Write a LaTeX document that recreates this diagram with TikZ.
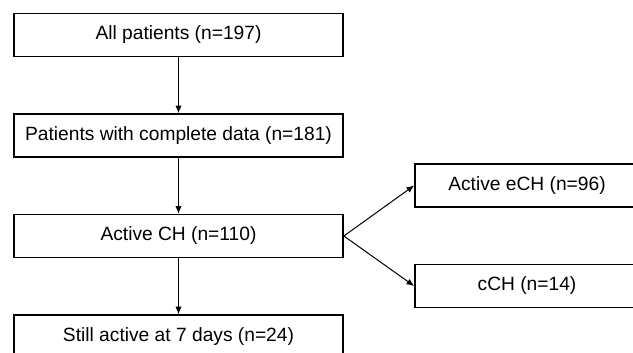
\documentclass[tikz,border=0pt]{standalone}
\usepackage{fontspec}
\setmainfont{Liberation Sans}
\usetikzlibrary{arrows.meta}
\def\rowsep{100.5}

\begin{document}
\begin{tikzpicture}[x=0.5pt,y=-0.5pt,->,>={Latex[length=3.8pt,width=3.2pt]},draw=black]
  \tikzstyle{every edge}=[draw,line width=0.5pt]
  \tikzstyle{box}=[draw,line width=0.85pt,minimum width=164.5pt,minimum height=21.5pt,inner sep=0pt,font=\fontsize{9.6}{11}\selectfont]
  \tikzstyle{sidebox}=[box,minimum width=112pt]

  \useasboundingbox (0,0) rectangle (633,353);
  \clip (0,0) rectangle (633,353);

  \node[box] (all) at (178.5,35) {All patients (n=197)};
  \node[box] (complete) at (178.5,35+\rowsep) {Patients with complete data (n=181)};
  \node[box] (active) at (178.5,35+2*\rowsep) {Active CH (n=110)};
  \node[box] (still) at (178.5,35+3*\rowsep) {Still active at 7 days (n=24)};

  \node[sidebox] (ech) at (527,185.5) {Active eCH (n=96)};
  \node[sidebox] (cch) at (527,286) {cCH (n=14)};

  \path (all) edge (complete);
  \path (complete) edge (active);
  \path (active) edge (still);

  \foreach \dest in {ech,cch}
    \path (active.east) edge (\dest.west);

\end{tikzpicture}
\end{document}
